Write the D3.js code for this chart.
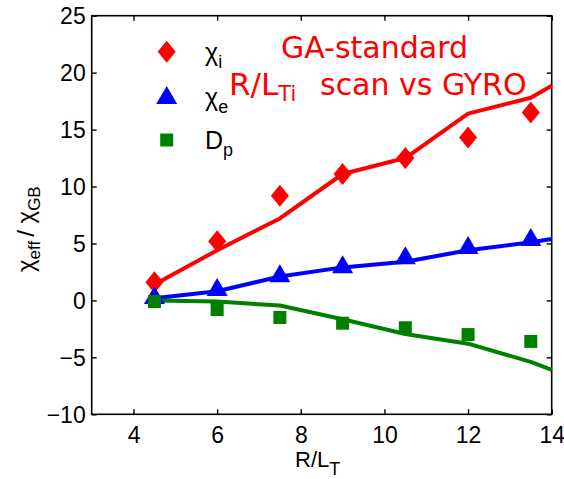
<!DOCTYPE html>
<html>
<head>
<meta charset="utf-8">
<script src="https://cdn.jsdelivr.net/npm/d3@7"></script>
<style>
  html, body { margin: 0; padding: 0; background: #fff; }
  svg { display: block; }
</style>
</head>
<body>
<svg id="chart" width="564" height="479"></svg>
<script>
// R/L_T scan: simulation points (markers) and model curves (lines)
const rltPoints = [4.5, 6, 7.5, 9, 10.5, 12, 13.5];
const chiIPoints = [1.6, 5.2, 9.2, 11.1, 12.5, 14.3, 16.5];
const chiEPoints = [0.3, 1.0, 2.2, 3.0, 3.8, 4.7, 5.4];
const dpPoints   = [-0.1, -0.8, -1.5, -2.0, -2.4, -3.0, -3.6];

const rltLine = [4.5, 6, 7.5, 9, 10.5, 12, 13.5, 14];
const chiILine = [1.4, 4.4, 7.2, 11.1, 12.5, 16.4, 17.8, 18.85];
const chiELine = [0.2, 0.8, 2.1, 2.9, 3.4, 4.4, 5.1, 5.4];
const dpLine   = [0.0, -0.1, -0.45, -1.65, -2.95, -3.8, -5.4, -6.1];

const xTicks = [4, 6, 8, 10, 12, 14];
const yTicks = [-10, -5, 0, 5, 10, 15, 20, 25];

const svg = d3.select("#chart");
const L = 91.7, R = 551.7, T = 15.7, B = 414.3;

const x = d3.scaleLinear().domain([3, 14]).range([L, R]);
const y = d3.scaleLinear().domain([-10, 25]).range([B, T]);

const tickFont = "'Liberation Sans', Arial, sans-serif";

// Frame
svg.append("rect")
  .attr("x", L).attr("y", T).attr("width", R - L).attr("height", B - T)
  .attr("fill", "none").attr("stroke", "#000").attr("stroke-width", 1.6);

// Axes with inward ticks
const xAxis = svg.append("g").attr("transform", `translate(0,${B})`)
  .call(d3.axisBottom(x).tickValues(xTicks).tickSizeInner(-5).tickSizeOuter(0).tickPadding(12));
const xTop = svg.append("g").attr("transform", `translate(0,${T})`)
  .call(d3.axisTop(x).tickValues(xTicks).tickSizeInner(-5).tickSizeOuter(0).tickFormat(""));
const yAxis = svg.append("g").attr("transform", `translate(${L},0)`)
  .call(d3.axisLeft(y).tickValues(yTicks).tickSizeInner(-5).tickSizeOuter(0).tickPadding(6));
const yRight = svg.append("g").attr("transform", `translate(${R},0)`)
  .call(d3.axisRight(y).tickValues(yTicks).tickSizeInner(-5).tickSizeOuter(0).tickFormat(""));

[xAxis, xTop, yAxis, yRight].forEach(g => {
  g.select(".domain").remove();
  g.selectAll(".tick line").attr("stroke", "#000").attr("stroke-width", 1.4);
  g.selectAll(".tick text").attr("fill", "#000")
    .style("font-family", tickFont).style("font-size", "23px");
});
xAxis.selectAll(".tick text").attr("dy", "0.71em");
yAxis.selectAll(".tick text").attr("dy", "0.36em");

// Curves
const line = d3.line().x(d => x(d[0])).y(d => y(d[1]));
const series = [
  { color: "#ff0000", lx: rltLine, ly: chiILine, py: chiIPoints, shape: "diamond" },
  { color: "#0000ff", lx: rltLine, ly: chiELine, py: chiEPoints, shape: "triangle" },
  { color: "#008000", lx: rltLine, ly: dpLine,   py: dpPoints,   shape: "square" }
];

function markerPath(shape) {
  if (shape === "diamond") return "M0,-11L9,0L0,11L-9,0Z";
  if (shape === "triangle") return "M0,-11L10.5,7L-10.5,7Z";
  return "M-6.5,-6.5H6.5V6.5H-6.5Z";
}

series.forEach(s => {
  svg.append("path")
    .datum(s.lx.map((v, i) => [v, s.ly[i]]))
    .attr("d", line)
    .attr("fill", "none")
    .attr("stroke", s.color)
    .attr("stroke-width", 4)
    .attr("stroke-linejoin", "round");
});
series.forEach(s => {
  svg.append("g").selectAll("path")
    .data(rltPoints.map((v, i) => [v, s.py[i]]))
    .join("path")
    .attr("d", markerPath(s.shape))
    .attr("transform", d => `translate(${x(d[0])},${y(d[1])})`)
    .attr("fill", s.color);
});

// Legend
const legend = [
  { shape: "diamond", color: "#ff0000", main: "χ", sub: "i", cy: 51.7 },
  { shape: "triangle", color: "#0000ff", main: "χ", sub: "e", cy: 97 },
  { shape: "square", color: "#008000", main: "D", sub: "p", cy: 140 }
];
legend.forEach(d => {
  svg.append("path").attr("d", markerPath(d.shape))
    .attr("transform", `translate(166.7,${d.cy})`).attr("fill", d.color);
  const t = svg.append("text").attr("x", 205).attr("y", d.cy + 9)
    .style("font-family", tickFont).style("font-size", "25px").attr("fill", "#000");
  t.append("tspan").text(d.main);
  t.append("tspan").attr("dy", 7).style("font-size", "18px").text(d.sub);
});

// Title
const titleFont = "'DejaVu Sans', Verdana, sans-serif";
svg.append("text").attr("x", 281).attr("y", 58)
  .style("font-family", titleFont).style("font-size", "30px").attr("fill", "#ff0000")
  .text("GA-standard");
const t2 = svg.append("text").attr("x", 229).attr("y", 95)
  .style("font-family", titleFont).style("font-size", "31px").attr("fill", "#ff0000");
t2.append("tspan").text("R/L");
t2.append("tspan").attr("dy", 6).style("font-size", "21px").text("Ti");
svg.append("text").attr("x", 320).attr("y", 95)
  .style("font-family", titleFont).style("font-size", "30px").attr("fill", "#ff0000")
  .text("scan vs GYRO");

// Axis titles
const xl = svg.append("text").attr("x", 295).attr("y", 466.5)
  .style("font-family", tickFont).style("font-size", "22px").attr("fill", "#000");
xl.append("tspan").text("R/L");
xl.append("tspan").attr("dy", 8).style("font-size", "18px").text("T");

const yl = svg.append("text")
  .attr("transform", "translate(34,272) rotate(-90)")
  .style("font-family", tickFont).style("font-size", "24px").attr("fill", "#000");
yl.append("tspan").text("χ");
yl.append("tspan").attr("dy", 6).style("font-size", "17px").text("eff");
yl.append("tspan").attr("dy", -6).attr("dx", 4).text("/ χ");
yl.append("tspan").attr("dy", 6).style("font-size", "17px").text("GB");
</script>
</body>
</html>
